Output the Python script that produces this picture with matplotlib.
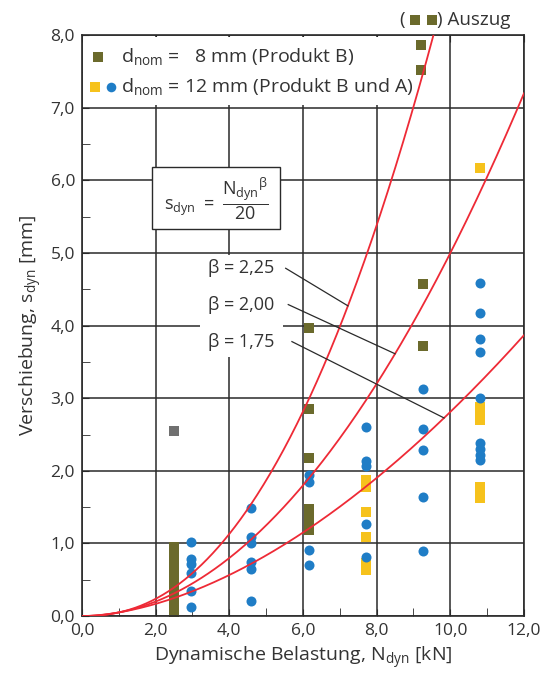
import numpy as np
import matplotlib
matplotlib.use("Agg")
import matplotlib.pyplot as plt
from matplotlib.patches import Rectangle
from matplotlib.ticker import FuncFormatter, MultipleLocator

plt.rcParams['font.family'] = ['Open Sans', 'DejaVu Sans']
plt.rcParams['mathtext.fontset'] = 'custom'
plt.rcParams['mathtext.rm'] = 'Open Sans'
plt.rcParams['mathtext.it'] = 'Open Sans:italic'
plt.rcParams['mathtext.bf'] = 'Open Sans:bold'

TXT = '#333333'
OLIVE = '#6b6a2c'
YELLOW = '#f6c21c'
BLUE = '#1f7dc6'
GREY = '#707070'
RED = '#ee2a36'

# d_nom = 8 mm (Produkt B), inkl. Auszug
x_8mm = [2.5] * 10 + [6.15] * 7 + [9.25] * 2 + [9.2, 9.2]
y_8mm = [0.05, 0.15, 0.25, 0.35, 0.45, 0.55, 0.65, 0.75, 0.85, 0.95,
         3.97, 2.85, 2.18, 1.48, 1.38, 1.28, 1.18,
         4.58, 3.72,
         7.87, 7.52]

# Sonderpunkt (grau)
x_grey = [2.5]
y_grey = [2.55]

# d_nom = 12 mm, gelb
x_12y = [7.7] * 6 + [10.8] * 7
y_12y = [1.87, 1.78, 1.43, 1.09, 0.73, 0.63,
         6.17, 2.88, 2.78, 2.70, 1.78, 1.70, 1.62]

# d_nom = 12 mm, blau
x_12b = [2.95] * 6 + [4.6] * 6 + [6.15] * 4 + [7.7] * 5 + [9.25] * 5 + [10.8] * 9
y_12b = [1.02, 0.78, 0.72, 0.60, 0.35, 0.12,
         1.49, 1.09, 1.00, 0.74, 0.65, 0.21,
         1.94, 1.85, 0.91, 0.70,
         2.60, 2.13, 2.06, 1.27, 0.82,
         3.13, 2.58, 2.29, 1.64, 0.90,
         4.59, 4.17, 3.82, 3.64, 3.00, 2.38, 2.30, 2.22, 2.15]

betas = [2.25, 2.00, 1.75]
beta_labels = ['β = 2,25', 'β = 2,00', 'β = 1,75']
label_y = [4.79, 4.29, 3.78]
leader_start_x = [5.53, 5.60, 5.70]
leader_end_n = [7.22, 8.50, 9.83]

fig = plt.figure(figsize=(5.43, 6.77), dpi=100)
ax = fig.add_axes([0.151, 0.090, 0.814, 0.858])
ax.set_xlim(0, 12)
ax.set_ylim(0, 8)
ax.set_axisbelow(True)

ax.xaxis.set_major_locator(MultipleLocator(2))
ax.xaxis.set_minor_locator(MultipleLocator(1))
ax.yaxis.set_major_locator(MultipleLocator(1))
ax.yaxis.set_minor_locator(MultipleLocator(0.5))
fmt = FuncFormatter(lambda v, p: f'{v:.1f}'.replace('.', ','))
ax.xaxis.set_major_formatter(fmt)
ax.yaxis.set_major_formatter(fmt)
ax.grid(True, which='major', color='#2a2a2a', lw=1.1)
ax.tick_params(which='both', direction='in', top=True, right=False,
               colors='#2a2a2a', labelcolor=TXT, labelsize=12.5)
ax.tick_params(which='major', length=5, pad=5)
ax.tick_params(which='minor', length=6, top=False)
for s in ax.spines.values():
    s.set_color('#2a2a2a')
    s.set_linewidth(1.2)

# weisse Flaechen (Legende, Formel, Beschriftungen)
ax.add_patch(Rectangle((0.03, 7.04), 8.85, 0.93, fc='white', ec='none', zorder=1))
ax.add_patch(Rectangle((1.90, 5.33), 3.48, 0.85, fc='white', ec='#2a2a2a', lw=1.0, zorder=1))
ax.add_patch(Rectangle((3.20, 3.57), 2.26, 1.40, fc='white', ec='none', zorder=1))

# Messpunkte
ax.scatter(x_8mm, y_8mm, marker='s', s=48, color=OLIVE, lw=0, zorder=2)
ax.scatter(x_grey, y_grey, marker='s', s=48, color=GREY, lw=0, zorder=2)
ax.scatter(x_12y, y_12y, marker='s', s=48, color=YELLOW, lw=0, zorder=2)
ax.scatter(x_12b, y_12b, marker='o', s=52, color=BLUE, lw=0, zorder=2.1)

# Kurven s = N^beta / 20
n = np.linspace(0, 12, 400)
for b in betas:
    ax.plot(n, n ** b / 20, color=RED, lw=1.3, zorder=3)

for lab, ly, xs, ne, b in zip(beta_labels, label_y, leader_start_x, leader_end_n, betas):
    ax.text(4.32, ly, lab, ha='center', va='center', fontsize=13, color=TXT, zorder=4)
    ax.plot([xs, ne], [ly, ne ** b / 20], color='#2a2a2a', lw=0.9, zorder=3.5)

# Formel
ax.text(3.64, 5.74, r'$\mathrm{s_{dyn}}\ =\ \dfrac{\mathrm{N_{dyn}}^{\mathrm{\beta}}}{20}$',
        ha='center', va='center', fontsize=13, color=TXT, zorder=4)

# Legende
ax.scatter([0.43], [7.70], marker='s', s=48, color=OLIVE, lw=0, zorder=4)
ax.scatter([0.36], [7.29], marker='s', s=48, color=YELLOW, lw=0, zorder=4)
ax.scatter([0.80], [7.29], marker='o', s=48, color=BLUE, lw=0, zorder=4)
ax.text(1.06, 7.70, r'$\mathrm{d_{nom}}$ =   8 mm (Produkt B)', ha='left', va='center',
        fontsize=14, color=TXT, zorder=4)
ax.text(1.06, 7.29, r'$\mathrm{d_{nom}}$ = 12 mm (Produkt B und A)', ha='left', va='center',
        fontsize=14, color=TXT, zorder=4)

# Auszug-Hinweis ueber der Achse
ax.text(8.60, 8.21, '(', ha='left', va='center', fontsize=13.5, color=TXT, clip_on=False)
ax.scatter([9.03, 9.50], [8.21, 8.21], marker='s', s=52, color=OLIVE, lw=0, clip_on=False)
ax.text(9.64, 8.21, ') Auszug', ha='left', va='center', fontsize=13.5, color=TXT, clip_on=False)

ax.set_xlabel(r'Dynamische Belastung, $\mathrm{N_{dyn}}$ [kN]', fontsize=14, color=TXT, labelpad=4)
ax.set_ylabel(r'Verschiebung, $\mathrm{s_{dyn}}$ [mm]', fontsize=14, color=TXT, labelpad=5)

fig.savefig('out.png', dpi=100, facecolor='white')
